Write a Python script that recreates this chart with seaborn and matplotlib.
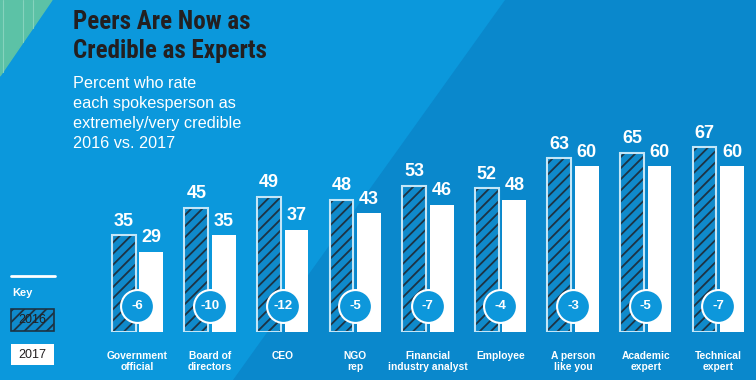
import numpy as np
import pandas as pd
import matplotlib.pyplot as plt
import matplotlib.font_manager as fm
from matplotlib.patches import Rectangle, Polygon
import seaborn as sns

# ===================== 数据 =====================
spokespeople = ['Government\nofficial', 'Board of\ndirectors', 'CEO', 'NGO\nrep',
                'Financial\nindustry analyst', 'Employee', 'A person\nlike you',
                'Academic\nexpert', 'Technical\nexpert']
pct_2016 = [35, 45, 49, 48, 53, 52, 63, 65, 67]
pct_2017 = [29, 35, 37, 43, 46, 48, 60, 60, 60]
years = ['2016', '2017']

df = pd.DataFrame({
    'spokesperson': spokespeople * 2,
    'year': [years[0]] * len(spokespeople) + [years[1]] * len(spokespeople),
    'pct': pct_2016 + pct_2017,
})
change = [b - a for a, b in zip(pct_2016, pct_2017)]

# ===================== 颜色 =====================
bg_light = '#0b98dc'
bg_dark = '#0a88cc'
bar16 = '#0f8acb'
hatch_col = '#1d3344'
outline16 = '#c4e6f7'
teal = '#5cc2a6'
title_col = '#231f20'

sns.set_style('white')
plt.rcParams['font.family'] = ['Liberation Sans', 'DejaVu Sans']
plt.rcParams['hatch.linewidth'] = 1.3

available = {f.name for f in fm.fontManager.ttflist}
title_font = next((f for f in ['Liberation Sans Narrow', 'Roboto Condensed', 'Roboto', 'Liberation Sans']
                   if f in available), 'DejaVu Sans')

W, H = 756, 380
fig = plt.figure(figsize=(W / 100, H / 100), dpi=100)
fig.patch.set_facecolor(bg_light)

def fx(x):
    return x / W

def fy(y):
    return 1 - y / H

# 背景装饰
fig.add_artist(Polygon([(fx(505), fy(0)), (1, 1), (1, 0), (fx(233), 0)],
                       closed=True, transform=fig.transFigure, color=bg_dark, zorder=0))
fig.add_artist(Polygon([(0, 1), (fx(52), 1), (0, fy(76))], closed=True,
                       transform=fig.transFigure, color=teal, zorder=0))
for lx in [3, 23, 33]:
    ly = 76 * (1 - lx / 52)
    fig.add_artist(plt.Line2D([fx(lx), fx(lx)], [1, fy(ly)], transform=fig.transFigure,
                              color='#86d3bd', lw=0.8, zorder=0))

# ===================== 柱状图 =====================
base_px = 332
px_per_unit = 2.76
ax = fig.add_axes([0, (H - base_px) / H, 1, base_px / H])
ax.set_facecolor('none')

sns.barplot(data=df, x='spokesperson', y='pct', hue='year',
            palette={'2016': bar16, '2017': 'white'}, saturation=1,
            width=0.76, gap=0.14, legend=False, ax=ax, zorder=2)

for p in ax.containers[0]:
    p.set_hatch('///')
    p.set_edgecolor(hatch_col)
    p.set_linewidth(0)
    ax.add_patch(Rectangle(p.get_xy(), p.get_width(), p.get_height(), fill=False,
                           edgecolor=outline16, lw=1.5, zorder=3))
for p in ax.containers[1]:
    p.set_edgecolor('none')

for c in ax.containers:
    ax.bar_label(c, fmt='%d', padding=4, color='white', fontsize=13, fontweight='bold')

# 变化圆圈
xs = np.arange(len(spokespeople))
cy = 9.6
ax.scatter(xs, [cy] * len(xs), s=560, color='#0d97db', edgecolor='white', linewidth=1.5, zorder=5)
for x, d in zip(xs, change):
    ax.text(x, cy, f'{d}', ha='center', va='center', color='white',
            fontsize=9.5, fontweight='bold', zorder=6)

ax.set_xlim(-137.5 / 72.6, (W - 137.5) / 72.6)
ax.set_ylim(0, base_px / px_per_unit)
ax.set_xlabel('')
ax.set_ylabel('')
ax.set_yticks([])
ax.tick_params(axis='x', length=0, pad=14, labelcolor='white', labelsize=7.4)
for t in ax.get_xticklabels():
    t.set_fontweight('bold')
    t.set_linespacing(1.1)
sns.despine(ax=ax, left=True, bottom=True)

# ===================== 标题 =====================
for txt, by in [('Peers Are Now as', 29), ('Credible as Experts', 58)]:
    fig.text(fx(73), fy(by), txt, family=title_font, fontsize=18, fontweight='bold',
             color=title_col, va='baseline', ha='left')
for i, txt in enumerate(['Percent who rate', 'each spokesperson as',
                         'extremely/very credible', '2016 vs. 2017']):
    fig.text(fx(73), fy(88 + 20 * i), txt, fontsize=11.7, color='white',
             va='baseline', ha='left')

# ===================== 图例 =====================
fig.add_artist(plt.Line2D([fx(11), fx(55)], [fy(276), fy(276)], transform=fig.transFigure,
                          color='white', lw=2))
fig.text(fx(12), fy(293), 'Key', fontsize=8, fontweight='bold', color='white', va='center')
fig.add_artist(Rectangle((fx(11), fy(331)), fx(43), 22 / H, transform=fig.transFigure,
                         facecolor=bar16, edgecolor=hatch_col, hatch='///', lw=1.2))
fig.text(fx(32.5), fy(320), years[0], fontsize=9, color=title_col, ha='center', va='center')
fig.add_artist(Rectangle((fx(11), fy(365)), fx(43), 21 / H, transform=fig.transFigure,
                         facecolor='white', edgecolor='none'))
fig.text(fx(32.5), fy(354.5), years[1], fontsize=9, color=title_col, ha='center', va='center')

fig.savefig('out.png', dpi=100, facecolor=fig.get_facecolor())
